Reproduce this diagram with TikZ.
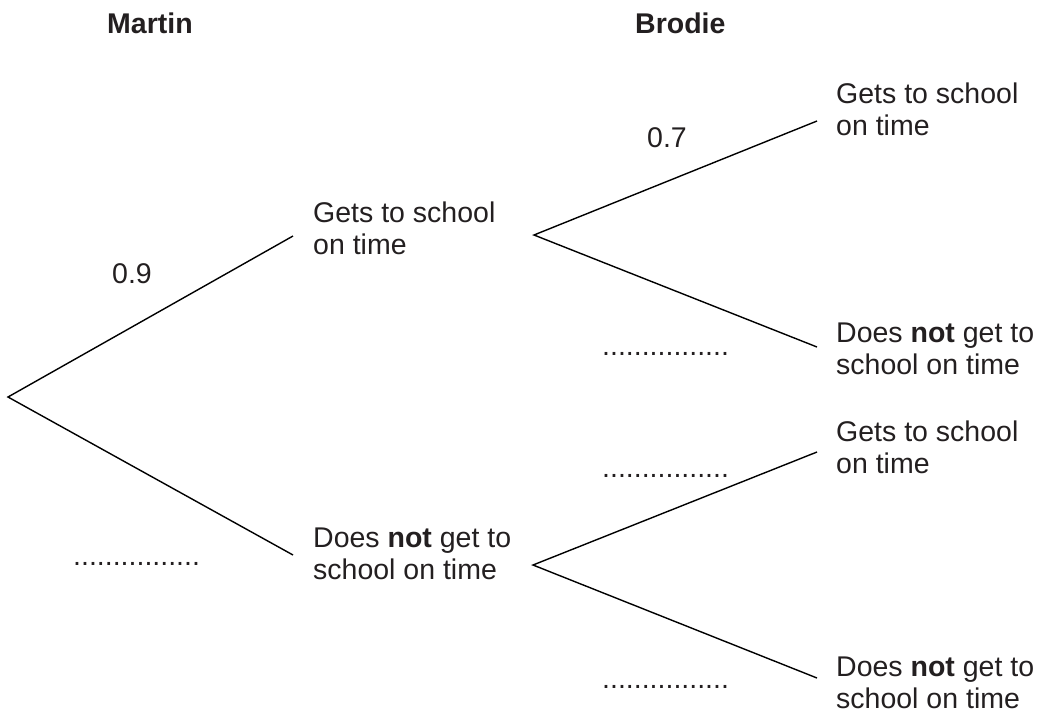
\documentclass[tikz,border=0pt]{standalone}
\usepackage{fontspec}
\setmainfont{Liberation Sans}
\definecolor{ink}{HTML}{231F20}
\begin{document}
\begin{tikzpicture}[x=1pt,y=-1pt,
  lbl/.style={anchor=base west,inner sep=0pt,align=left,text=ink,
    font=\fontsize{28.5}{32}\selectfont},
  head/.style={lbl,font=\fontsize{28.5}{32}\selectfont\bfseries},
  branch/.style={draw=black,line width=1.4pt}]
\useasboundingbox (0,0) rectangle (1045,716);
% headings
\node[head] (hm) at (107,33) {Martin};
\node[head] (hb) at (635,33) {Brodie};
% branch points
\coordinate (root) at (8,397);
\coordinate (e1) at (293,236);
\coordinate (e2) at (293,555);
\coordinate (v1) at (534,235);
\coordinate (v2) at (533,565);
\coordinate (r1) at (817,121);
\coordinate (r2) at (817,347);
\coordinate (r3) at (817,452);
\coordinate (r4) at (817,678);
% outcome texts (base anchor = last line)
\node[lbl] (m1) at (313,254) {Gets to school\\on time};
\node[lbl] (m2) at (313,579) {Does \textbf{not} get to\\school on time};
\node[lbl] (b1) at (836,135) {Gets to school\\on time};
\node[lbl] (b2) at (836,374) {Does \textbf{not} get to\\school on time};
\node[lbl] (b3) at (836,473) {Gets to school\\on time};
\node[lbl] (b4) at (836,708) {Does \textbf{not} get to\\school on time};
% branches
\draw[branch] (e1) -- (root) -- (e2);
\draw[branch] (r1) -- (v1) -- (r2);
\draw[branch] (r3) -- (v2) -- (r4);
% probabilities
\node[lbl] (p1) at (112,283) {0.9};
\node[lbl] (p2) at (647,147) {0.7};
\node[lbl] (d1) at (73,565) {................};
\node[lbl] (d2) at (602,355) {................};
\node[lbl] (d3) at (602,477) {................};
\node[lbl] (d4) at (602,688) {................};
\end{tikzpicture}
\end{document}
